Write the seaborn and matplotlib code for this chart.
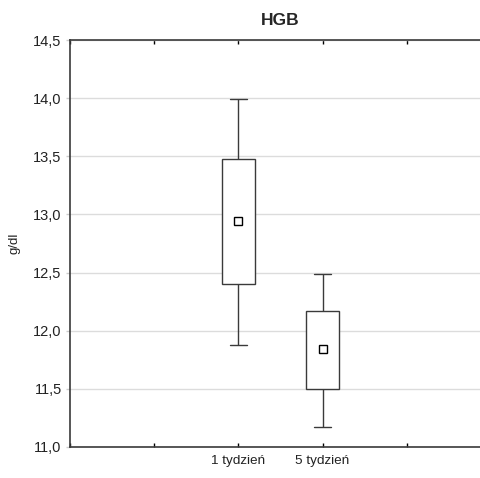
import numpy as np
import pandas as pd
import seaborn as sns
import matplotlib.pyplot as plt
from matplotlib.ticker import FuncFormatter, FixedLocator

# =========================================================
# DATA (min, q1, median, q3, max)
# =========================================================

groups = ["1 tydzień", "5 tydzień"]
whisker_low = [11.88, 11.17]
box_low = [12.40, 11.50]
medians = [12.94, 11.84]
box_high = [13.48, 12.17]
whisker_high = [13.99, 12.49]

# five points per group -> seaborn gives quartiles/median/min/max exactly
rows = []
for i, g in enumerate(groups):
    for v in (whisker_low[i], box_low[i], medians[i], box_high[i], whisker_high[i]):
        rows.append({"grupa": g, "HGB": v})
df = pd.DataFrame(rows)

# =========================================================
# PLOT
# =========================================================

sns.set_style("white")
plt.rcParams["font.family"] = ["Liberation Sans", "DejaVu Sans"]

edge = "#3a3a3a"

fig = plt.figure(figsize=(4.8, 4.78), dpi=100)
ax = fig.add_axes([70 / 480, 1 - 447 / 478, 421 / 480, 407 / 478])

ax.yaxis.grid(True, color="#dcdcdc", linewidth=1.0, zorder=0)
ax.set_axisbelow(True)

sns.boxplot(
    data=df, x="grupa", y="HGB", ax=ax,
    whis=np.inf, width=0.40, color="white",
    linecolor=edge, linewidth=1.0,
    medianprops={"linewidth": 0},
    capprops={"color": edge},
    whiskerprops={"color": edge},
    boxprops={"edgecolor": edge, "facecolor": "white"},
    showfliers=False,
)
# caps are narrower than the box
for line in ax.lines:
    xd = line.get_xdata()
    yd = line.get_ydata()
    if len(xd) == 2 and yd[0] == yd[1] and xd[0] != xd[1]:
        c = (xd[0] + xd[1]) / 2
        line.set_xdata([c - 0.105, c + 0.105])

sns.pointplot(
    data=df, x="grupa", y="HGB", ax=ax,
    estimator="median", errorbar=None, linestyle="none",
    markers="s", color="black", markersize=6,
    markerfacecolor="white", markeredgecolor="black", markeredgewidth=1.0,
)

ax.set_xlim(-2, 3)
ax.set_ylim(11.0, 14.5)
ax.xaxis.set_major_locator(FixedLocator([-2, -1, 0, 1, 2, 3]))
ax.set_xticklabels(["", "", groups[0], groups[1], "", ""])
ax.set_yticks(np.arange(11.0, 14.51, 0.5))
ax.yaxis.set_major_formatter(FuncFormatter(lambda v, p: f"{v:.1f}".replace(".", ",")))

ax.tick_params(axis="x", direction="in", top=True, bottom=True, length=3,
               width=1, color="black", labelsize=9.7, pad=6, labelcolor="#222222")
ax.tick_params(axis="y", direction="out", left=True, length=3, width=1,
               color="#cccccc", labelsize=10.5, pad=3, labelcolor="#222222")

for s in ax.spines.values():
    s.set_color(edge)
    s.set_linewidth(1.2)

ax.set_xlabel("")
ax.set_ylabel("g/dl", fontsize=9.5, color="#222222", labelpad=9)
ax.set_title("HGB", fontsize=12.5, fontweight="bold", pad=11)

fig.savefig("out.png", dpi=100)
